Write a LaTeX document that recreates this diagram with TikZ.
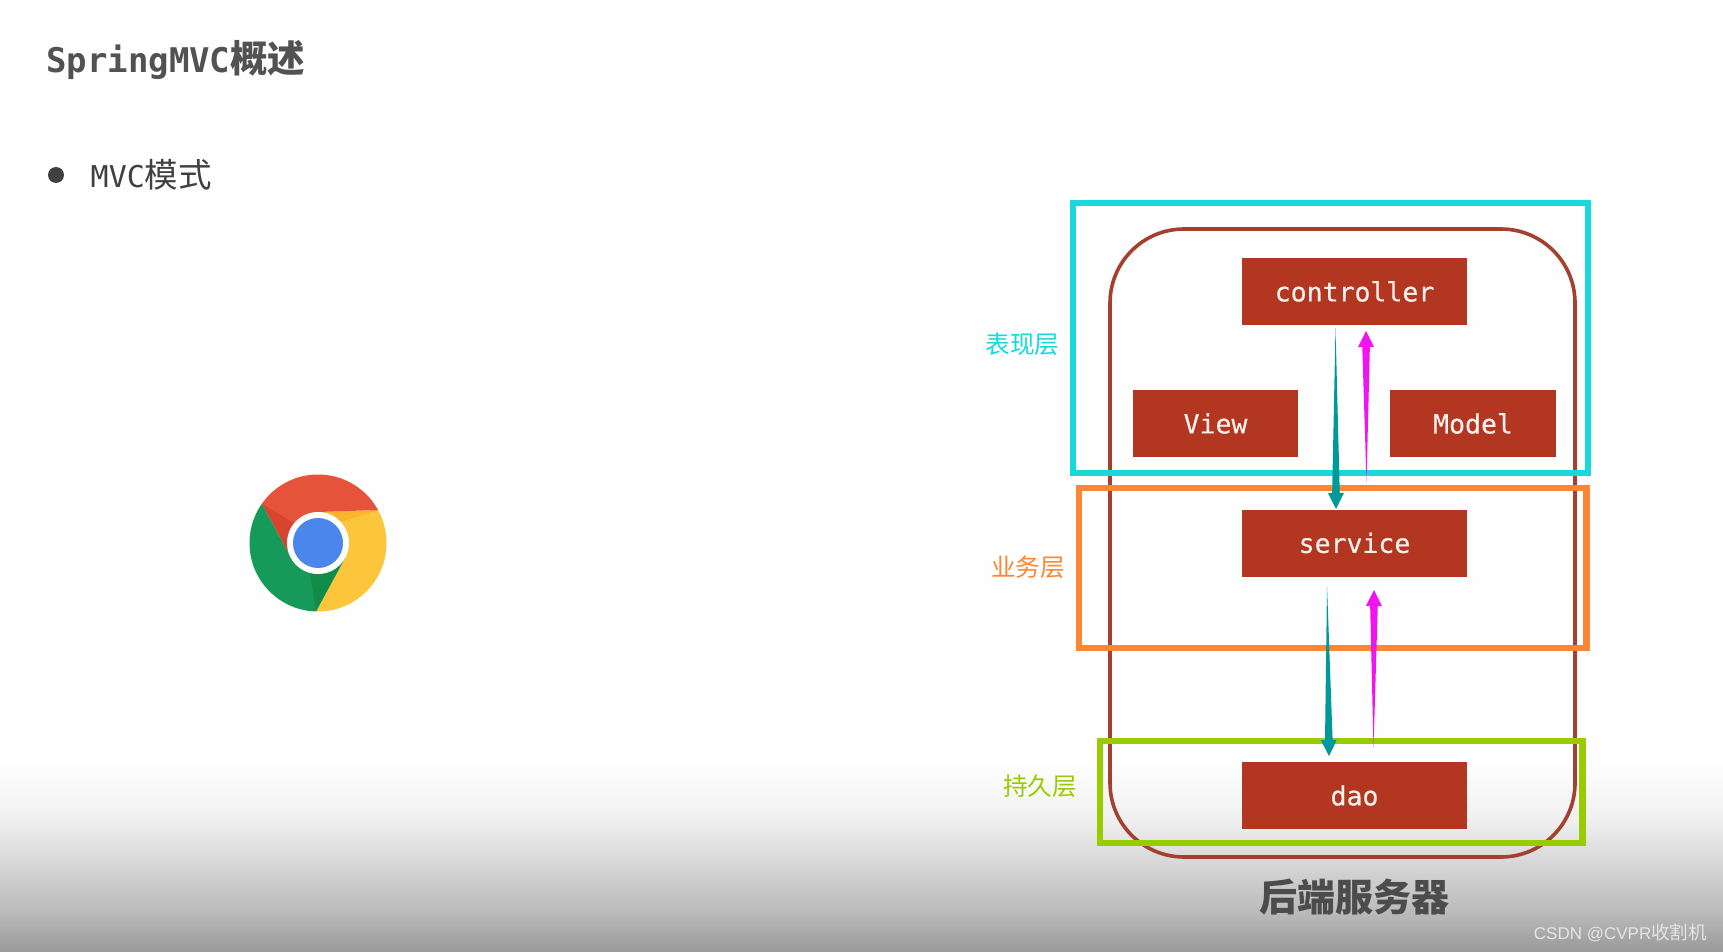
\documentclass[tikz,border=0pt]{standalone}
\usepackage{fontspec}
\usetikzlibrary{calc}
\newfontfamily\boxmono{DejaVu Sans Mono}
\newfontfamily\boxmonoheavy[FakeBold=0.35]{DejaVu Sans Mono}
\newfontfamily\cjkfont{Noto Sans CJK SC}
\newfontfamily\wmfont{Liberation Sans}
\definecolor{boxred}{HTML}{B23620}
\definecolor{outline}{HTML}{A5402F}
\definecolor{cyanbox}{HTML}{17D9DB}
\definecolor{orangebox}{HTML}{FB8735}
\definecolor{greenbox}{HTML}{99CC00}
\definecolor{tealarrow}{HTML}{009999}
\definecolor{magarrow}{HTML}{F014F0}
\definecolor{chromered}{HTML}{E5533A}
\definecolor{chromeyellow}{HTML}{FBC53C}
\definecolor{chromegreen}{HTML}{159A5A}
\definecolor{chromeblue}{HTML}{4A86EC}
\tikzset{
  layerbox/.style={line width=6.5pt,fill=none},
  redbox/.style={fill=boxred,text=white!93!boxred,minimum height=67pt,inner sep=0pt,
    font=\boxmonoheavy\fontsize{26.5}{26.5}\selectfont},
  sidelabel/.style={inner sep=0pt,font=\cjkfont\fontsize{24.6}{24.6}\selectfont},
}
\newcommand{\taperarrow}[3]{%
  \fill[#3] (#1) -- ($($(#2)!16pt!(#1)$)!3.8pt!90:(#2)$)
    -- ($($(#2)!16pt!(#1)$)!8pt!90:(#2)$) -- (#2)
    -- ($($(#2)!16pt!(#1)$)!8pt!-90:(#2)$)
    -- ($($(#2)!16pt!(#1)$)!3.8pt!-90:(#2)$) -- cycle;}
\begin{document}
\begin{tikzpicture}[x=1pt,y=-1pt]
\useasboundingbox (0,0) rectangle (1723,952);
\fill[white!99.5!black] (0,0) rectangle (1723,952);
% bottom fade
\shade[top color=white!99.5!black,bottom color=white!94!black] (0,765) rectangle (1723,820);
\shade[top color=white!94!black,bottom color=white!73!black] (0,819.5) rectangle (1723,913);
\shade[top color=white!73!black,bottom color=white!60!black] (0,912.5) rectangle (1723,952);
% heading
\node[anchor=west,inner sep=0pt,text=black!68] (title) at (46,60)
  {\bfseries\boxmono\fontsize{34}{34}\selectfont SpringMVC{\cjkfont\fontsize{37.5}{36}\selectfont 概述}};
\fill[black!75] (56,175) circle (8);
\node[anchor=west,inner sep=0pt,text=black!75] (bullet) at (90.5,175)
  {\boxmono\fontsize{30}{30}\selectfont MVC{\cjkfont\fontsize{33.5}{32}\selectfont 模式}};
% browser logo
\begin{scope}[shift={(318,543)}]
  \coordinate (A) at (60,-33);
  \coordinate (B) at (-2,68.5);
  \coordinate (C) at (-56,-39);
  \coordinate (Tt) at (0,-31);
  \coordinate (Tr) at (26.8,15.5);
  \coordinate (Tl) at (-26.8,15.5);
  \begin{scope}
    \clip (0,0) circle (68.5);
    \fill[chromeyellow] (Tt) -- (A) -- (90,-33) -- (90,90) -- (-2,90) -- (B) -- (Tr) -- cycle;
    \fill[orange!80!chromeyellow,opacity=.3] (Tt) -- (A) -- (10,-17) -- cycle;
    \fill[chromered] (C) -- (-90,-90) -- (90,-90) -- (90,-33) -- (A) -- (Tt) -- (0,0) -- (Tl) -- cycle;
    \fill[red!60!black,opacity=.18] (C) -- (Tl) -- (-14,-14) -- cycle;
    \fill[chromegreen] (B) -- (-2,90) -- (-90,90) -- (-90,-60) -- (C) -- (Tl) -- (0,0) -- (Tr) -- cycle;
    \fill[green!30!black,opacity=.18] (B) -- (Tr) -- (-8,30) -- cycle;
  \end{scope}
  \fill[white] (0,0) circle (31);
  \fill[chromeblue] (0,0) circle (25);
\end{scope}
% server outline
\draw[outline,line width=3.6pt,rounded corners=74pt] (1110,229) rectangle (1575,857);
% components
\node[redbox,minimum width=225pt] (controller) at (1354.5,291.5) {controller};
\node[redbox,minimum width=165.5pt] (view) at (1215.5,423.5) {View};
\node[redbox,minimum width=166pt] (model) at (1473,423.5) {Model};
\node[redbox,minimum width=225pt] (service) at (1354.5,543) {service};
\node[redbox,minimum width=225pt] (dao) at (1354.5,795.5) {dao};
% layers
\draw[cyanbox,layerbox] (1073.2,203.2) rectangle (1588,472.8);
\draw[orangebox,layerbox] (1079,488.2) rectangle (1586.5,647.8);
\draw[greenbox,layerbox] (1100.2,741.2) rectangle (1582.5,842.8);
\node[sidelabel,text=cyanbox] (lp) at (1022.5,344) {表现层};
\node[sidelabel,text=orangebox] (lb) at (1028,567) {业务层};
\node[sidelabel,text=greenbox] (ld) at (1040,786) {持久层};
% arrows
\coordinate (t1a) at (1335.5,328);
\coordinate (t1b) at (1336,509);
\coordinate (m1a) at (1366.5,482);
\coordinate (m1b) at (1366,331);
\coordinate (t2a) at (1327,586);
\coordinate (t2b) at (1329,756);
\coordinate (m2a) at (1373.5,748);
\coordinate (m2b) at (1374,590);
\taperarrow{t1a}{t1b}{tealarrow}
\taperarrow{m1a}{m1b}{magarrow}
\taperarrow{t2a}{t2b}{tealarrow}
\taperarrow{m2a}{m2b}{magarrow}
% captions
\node[inner sep=0pt,text=black!70] (backend) at (1354,897)
  {\bfseries\cjkfont\fontsize{38}{38}\selectfont 后端服务器};
\node[anchor=east,inner sep=0pt,text=white!90!black] (mark) at (1707,933)
  {\wmfont\fontsize{17}{18}\selectfont CSDN @CVPR{\cjkfont\fontsize{18.5}{18}\selectfont 收割机}};
\end{tikzpicture}
\end{document}
